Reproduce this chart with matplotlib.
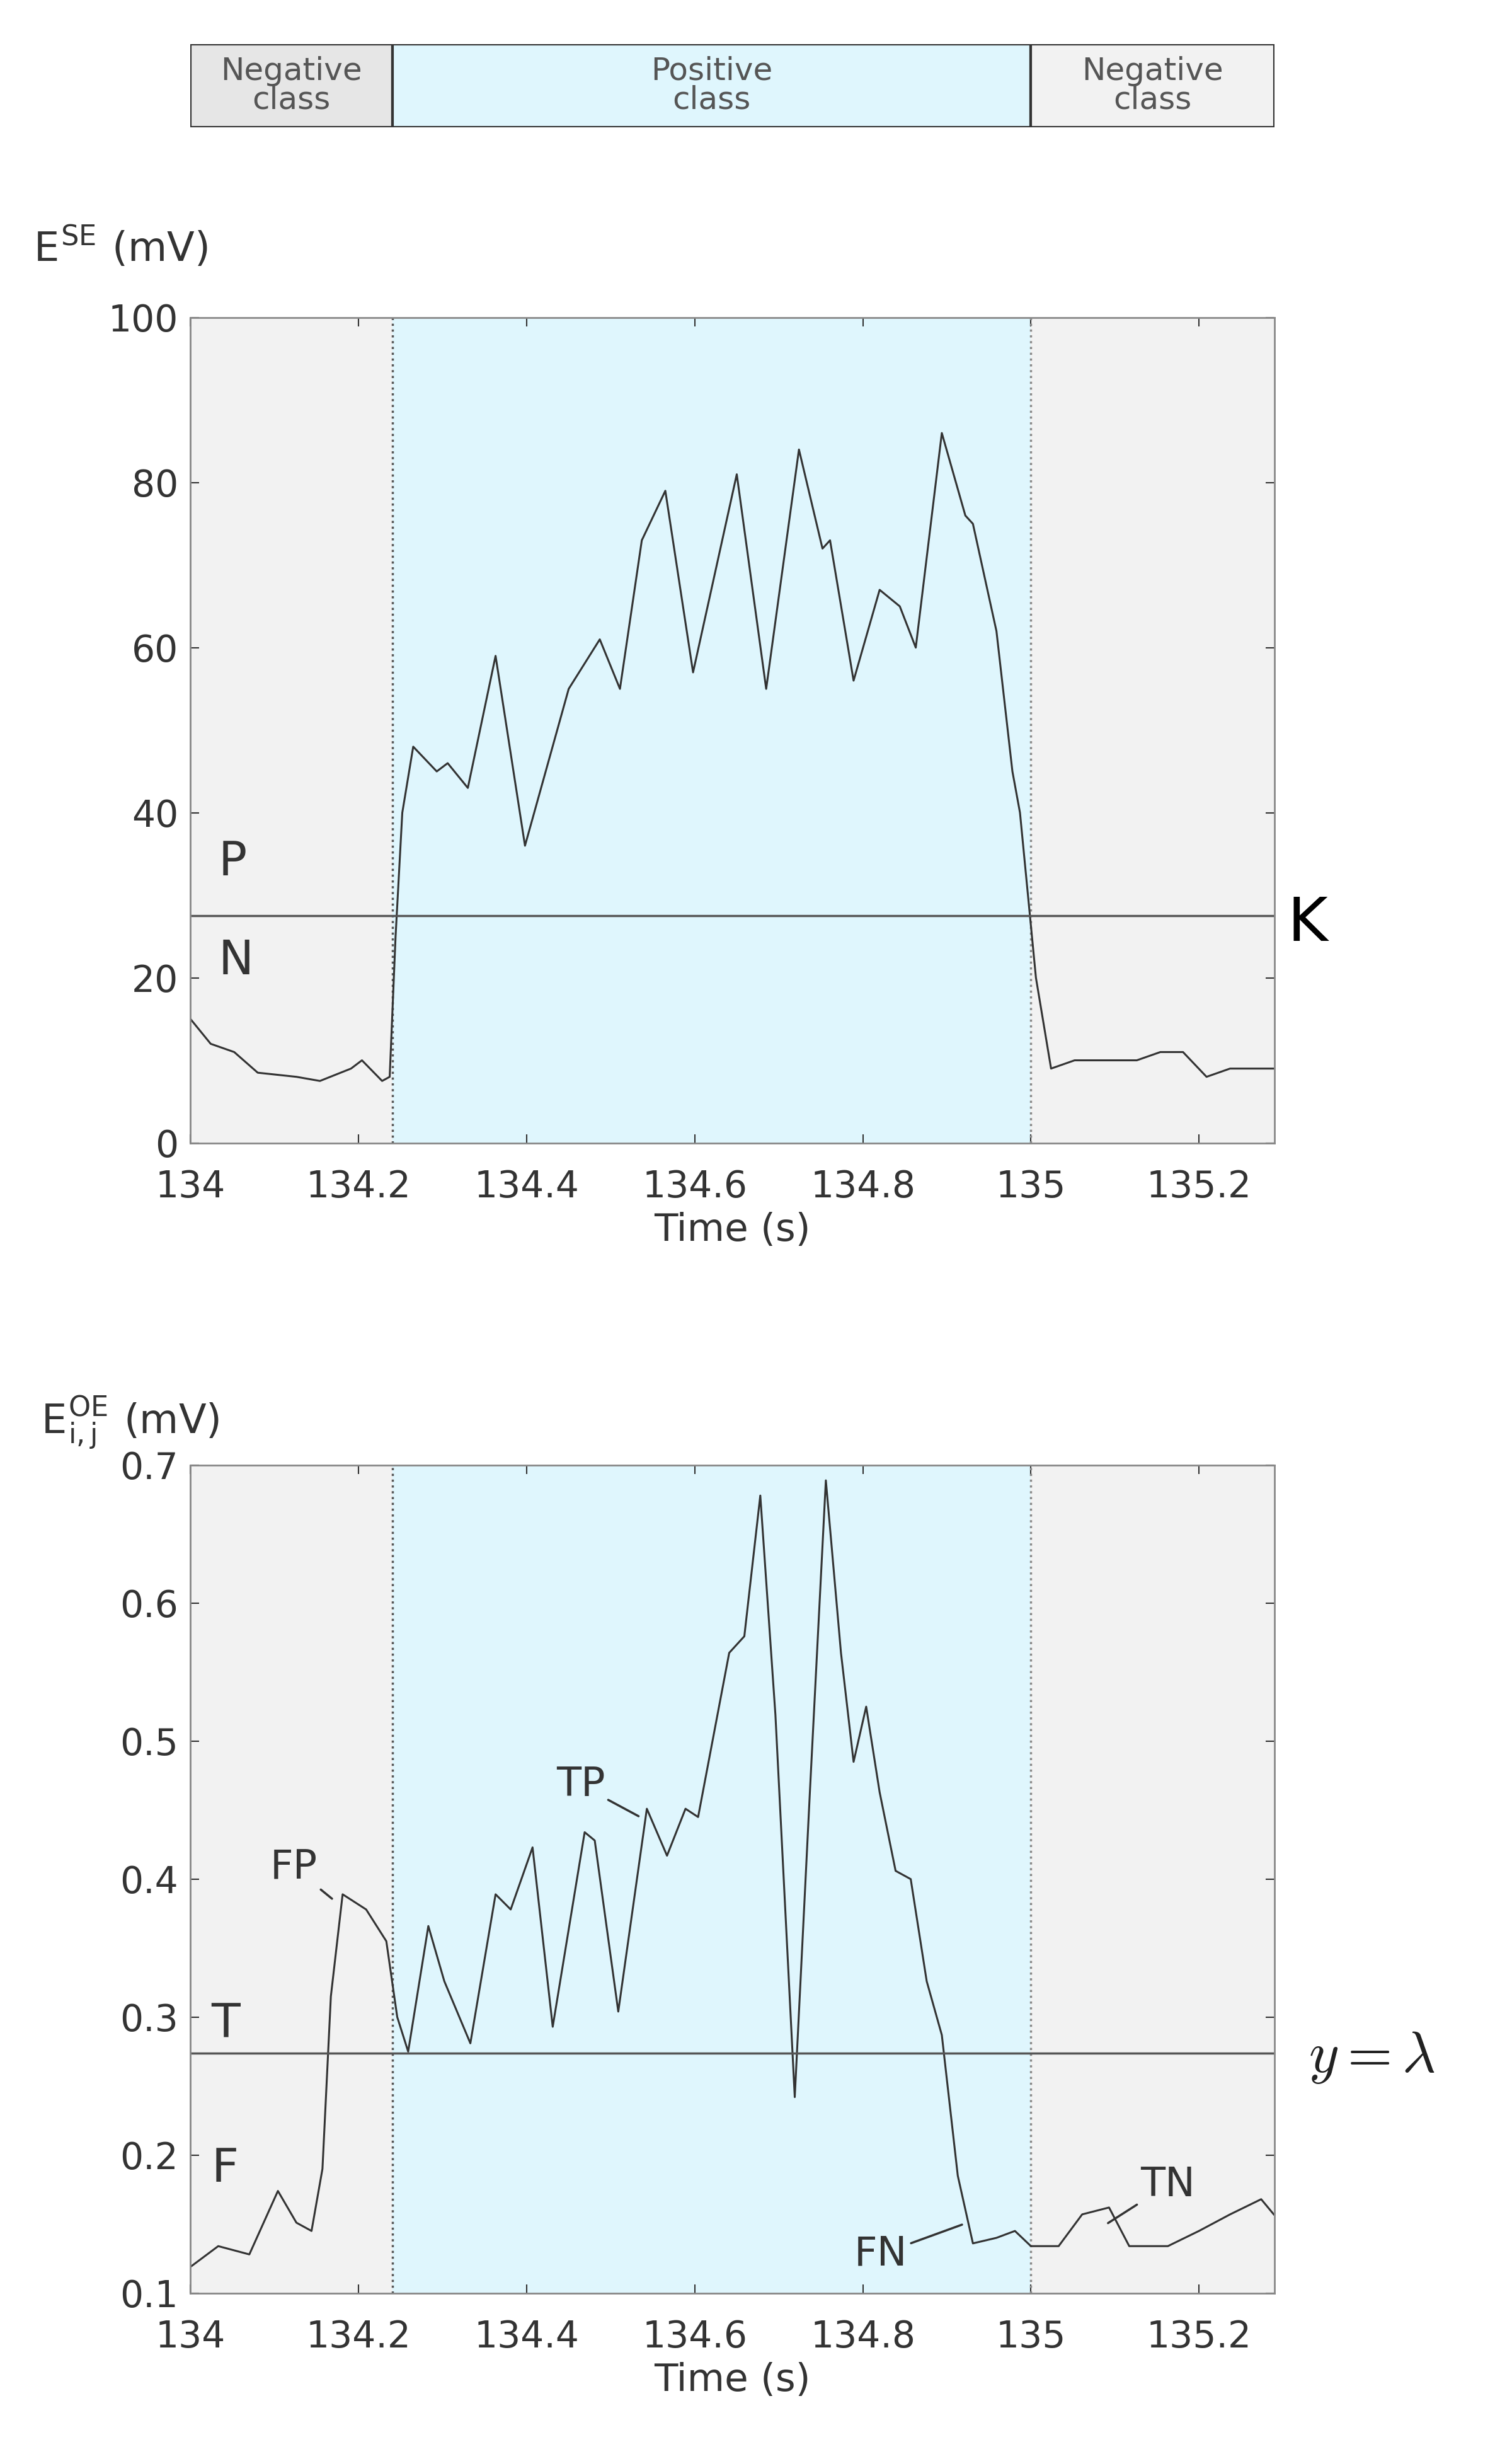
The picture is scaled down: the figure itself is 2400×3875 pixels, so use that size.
import matplotlib
matplotlib.use("Agg")
import matplotlib.pyplot as plt
from matplotlib.patches import Rectangle

t_se = [134.000,134.024,134.052,134.080,134.126,134.154,134.191,134.204,134.228,134.237,134.244,134.252,134.265,134.293,134.306,134.330,134.363,134.398,134.450,134.487,134.511,134.537,134.565,134.598,134.650,134.685,134.724,134.752,134.761,134.789,134.820,134.844,134.863,134.894,134.922,134.931,134.959,134.978,134.987,135.006,135.024,135.052,135.126,135.154,135.181,135.209,135.237,135.289]
v_se = [15,12,11,8.5,8,7.5,9,10,7.5,8,25,40,48,45,46,43,59,36,55,61,55,73,79,57,81,55,84,72,73,56,67,65,60,86,76,75,62,45,40,20,9,10,10,11,11,8,9,9]

t_oe = [134.000,134.033,134.070,134.104,134.126,134.144,134.157,134.167,134.181,134.209,134.233,134.246,134.259,134.283,134.302,134.333,134.363,134.381,134.407,134.431,134.469,134.481,134.509,134.543,134.567,134.589,134.604,134.641,134.659,134.678,134.696,134.719,134.737,134.756,134.774,134.789,134.804,134.820,134.839,134.857,134.876,134.894,134.913,134.931,134.959,134.981,135.000,135.033,135.061,135.093,135.117,135.163,135.200,135.237,135.274,135.289]
v_oe = [0.119,0.134,0.128,0.174,0.151,0.145,0.19,0.315,0.389,0.378,0.355,0.30,0.275,0.366,0.326,0.281,0.389,0.378,0.423,0.293,0.434,0.428,0.304,0.451,0.417,0.451,0.445,0.564,0.576,0.678,0.519,0.242,0.463,0.689,0.564,0.485,0.525,0.463,0.406,0.400,0.326,0.287,0.185,0.136,0.140,0.145,0.134,0.134,0.157,0.162,0.134,0.134,0.145,0.157,0.168,0.157]

x_ticks = [134, 134.2, 134.4, 134.6, 134.8, 135, 135.2]
x_ticklabels = ["134", "134.2", "134.4", "134.6", "134.8", "135", "135.2"]
pos_start, pos_end = 134.24, 135.0
K = 27.5
lam = 0.274

GREY = "#f2f2f2"
BLUE = "#dff6fd"
TXT = "#333333"
plt.rcParams["mathtext.fontset"] = "cm"

fig = plt.figure(figsize=(24, 38.75), dpi=100)

def style(ax, xmin, xmax):
    ax.axvspan(xmin, pos_start, color=GREY, zorder=0)
    ax.axvspan(pos_start, pos_end, color=BLUE, zorder=0)
    ax.axvspan(pos_end, xmax, color=GREY, zorder=0)
    ax.axvline(pos_start, color="#555555", ls=":", lw=2.5)
    ax.axvline(pos_end, color="#888888", ls=":", lw=2.5)
    ax.set_xlim(xmin, xmax)
    ax.set_xticks(x_ticks)
    ax.set_xticklabels(x_ticklabels)
    ax.tick_params(direction="in", length=10, width=1.5, labelsize=42,
                   colors=TXT, top=True, right=True)
    ax.tick_params(axis="x", pad=30)
    ax.tick_params(axis="y", pad=14)
    for s in ax.spines.values():
        s.set_color("#888888"); s.set_linewidth(2)
    ax.set_xlabel("Time (s)", fontsize=44, color=TXT, labelpad=8)

# legend box
axl = fig.add_axes([0.126, 0.948, 0.717, 0.034])
axl.set_xlim(134, 135.29); axl.set_ylim(0, 1); axl.axis("off")
for (a, b, c) in [(134, pos_start, "#e6e6e6"), (pos_start, pos_end, BLUE), (pos_end, 135.29, GREY)]:
    axl.add_patch(Rectangle((a, 0), b - a, 1, facecolor=c, edgecolor="#333333", lw=3))
for xc, s in [((134 + pos_start) / 2, "Negative\nclass"), ((pos_start + pos_end) / 2, "Positive\nclass"),
              ((pos_end + 135.29) / 2, "Negative\nclass")]:
    axl.text(xc, 0.5, s, ha="center", va="center", fontsize=36, color="#555555", linespacing=0.95)

# top
ax1 = fig.add_axes([0.126, 0.532, 0.717, 0.338])
style(ax1, 134, 135.29)
ax1.set_ylim(0, 100)
ax1.set_yticks([0, 20, 40, 60, 80, 100])
ax1.plot(t_se, v_se, color="#333333", lw=2.2)
ax1.axhline(K, color="#555555", lw=2.5)
ax1.text(134.033, 34, "P", fontsize=54, color=TXT, va="center")
ax1.text(134.033, 22, "N", fontsize=54, color=TXT, va="center")
ax1.text(135.305, K - 1, "K", fontsize=70, color="black", va="center", clip_on=False)
fig.text(0.022, 0.893, r"E$^{\mathregular{SE}}$ (mV)", fontsize=46, color=TXT)

# bottom
ax2 = fig.add_axes([0.126, 0.061, 0.717, 0.339])
style(ax2, 134, 135.29)
ax2.set_ylim(0.1, 0.7)
ax2.set_yticks([0.1, 0.2, 0.3, 0.4, 0.5, 0.6, 0.7])
ax2.set_yticklabels(["0.1", "0.2", "0.3", "0.4", "0.5", "0.6", "0.7"])
ax2.plot(t_oe, v_oe, color="#333333", lw=2.2)
ax2.axhline(lam, color="#555555", lw=2.5)
ax2.text(134.025, 0.295, "T", fontsize=54, color=TXT, va="center")
ax2.text(134.025, 0.19, "F", fontsize=54, color=TXT, va="center")
ax2.text(135.33, lam - 0.003, r"$y=\lambda$", fontsize=66, color="#222222", va="center", clip_on=False)
ann = dict(fontsize=46, color=TXT)
ap = dict(arrowstyle="-", color=TXT, lw=2.5)
ax2.annotate("FP", xy=(134.17, 0.385), xytext=(134.095, 0.4), arrowprops=ap, **ann)
ax2.annotate("TP", xy=(134.535, 0.445), xytext=(134.435, 0.46), arrowprops=ap, **ann)
ax2.annotate("FN", xy=(134.92, 0.15), xytext=(134.79, 0.12), arrowprops=ap, **ann)
ax2.annotate("TN", xy=(135.09, 0.15), xytext=(135.13, 0.17), arrowprops=ap, **ann)
fig.text(0.027, 0.413, r"E$^{\mathregular{OE}}_{\mathregular{i,j}}$ (mV)", fontsize=46, color=TXT)

fig.savefig("out.png", dpi=100)
